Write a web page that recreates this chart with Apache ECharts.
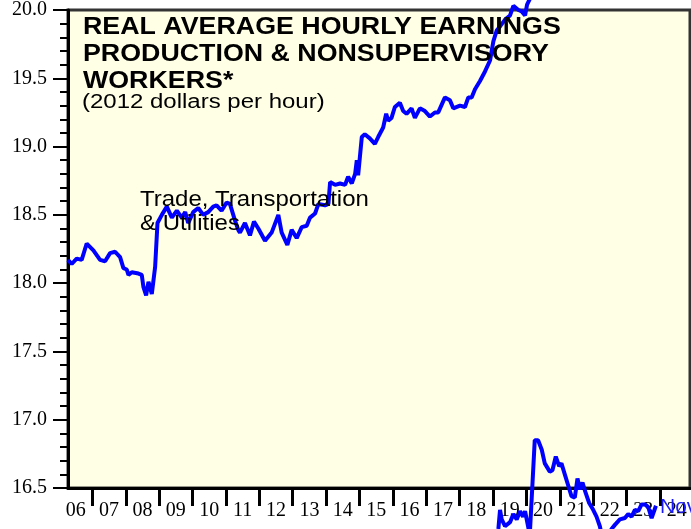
<!DOCTYPE html>
<html>
<head>
<meta charset="UTF-8">
<script src="https://cdn.jsdelivr.net/npm/echarts@6/dist/echarts.min.js"></script>
<style>
  html, body { margin: 0; padding: 0; background: #fff; }
  #main { width: 691px; height: 529px; }
</style>
</head>
<body>
<div id="main"></div>
<script>
    // upper line (decimal year, 2012 dollars per hour)
    var upperYears = [2006.27, 2006.38, 2006.53, 2006.68, 2006.83, 2007.03, 2007.23, 2007.38, 2007.53, 2007.68,
        2007.83, 2007.93, 2008.03, 2008.08, 2008.18, 2008.38, 2008.48, 2008.53, 2008.61, 2008.68,
        2008.78, 2008.88, 2008.95, 2009.08, 2009.23, 2009.38, 2009.53, 2009.68, 2009.78, 2009.87,
        2010.02, 2010.17, 2010.32, 2010.47, 2010.62, 2010.72, 2010.87, 2011.02, 2011.12, 2011.27,
        2011.37, 2011.42, 2011.57, 2011.72, 2011.84, 2011.97, 2012.17, 2012.37, 2012.57, 2012.67,
        2012.84, 2012.97, 2013.12, 2013.27, 2013.42, 2013.52, 2013.67, 2013.77, 2013.97, 2014.07,
        2014.12, 2014.27, 2014.42, 2014.57, 2014.66, 2014.77, 2014.87, 2014.92, 2014.96, 2015.07,
        2015.16, 2015.31, 2015.46, 2015.56, 2015.71, 2015.80, 2015.86, 2015.96, 2016.06, 2016.21,
        2016.31, 2016.41, 2016.56, 2016.66, 2016.81, 2016.96, 2017.11, 2017.26, 2017.36, 2017.56,
        2017.71, 2017.81, 2018.01, 2018.16, 2018.26, 2018.36, 2018.46, 2018.61, 2018.76, 2018.91,
        2019.01, 2019.11, 2019.21, 2019.36, 2019.51, 2019.61, 2019.76, 2019.86, 2019.96, 2020.02,
        2020.10, 2020.15];
    var upperValues = [18.17, 18.14, 18.18, 18.17, 18.29, 18.24, 18.17, 18.16, 18.22, 18.23,
        18.19, 18.11, 18.10, 18.06, 18.08, 18.07, 18.06, 17.97, 17.91, 18.01,
        17.92, 18.12, 18.44, 18.50, 18.56, 18.48, 18.53, 18.48, 18.52, 18.44,
        18.52, 18.55, 18.50, 18.52, 18.56, 18.57, 18.53, 18.59, 18.58, 18.46,
        18.39, 18.37, 18.44, 18.35, 18.45, 18.40, 18.31, 18.37, 18.50, 18.37,
        18.28, 18.39, 18.33, 18.41, 18.42, 18.48, 18.51, 18.58, 18.57, 18.58,
        18.74, 18.72, 18.73, 18.72, 18.78, 18.73, 18.80, 18.90, 18.79, 19.07,
        19.09, 19.06, 19.02, 19.07, 19.14, 19.24, 19.19, 19.21, 19.29, 19.32,
        19.26, 19.24, 19.28, 19.21, 19.28, 19.26, 19.22, 19.25, 19.25, 19.36,
        19.34, 19.28, 19.30, 19.29, 19.36, 19.36, 19.42, 19.48, 19.55, 19.63,
        19.77, 19.85, 19.88, 19.93, 19.96, 20.03, 20.00, 19.99, 19.96, 20.04,
        20.08, 20.20];

    // lower line, drawn below the axis at the right
    var lowerYears = [2019.12, 2019.16, 2019.21, 2019.26, 2019.36, 2019.51, 2019.61, 2019.71, 2019.81, 2019.90,
        2019.96, 2020.05, 2020.10, 2020.25, 2020.35, 2020.46, 2020.55, 2020.70, 2020.78, 2020.88,
        2020.98, 2021.05, 2021.15, 2021.25, 2021.35, 2021.45, 2021.53, 2021.60, 2021.68, 2021.78,
        2021.88, 2022.00, 2022.10, 2022.20, 2022.26, 2022.38, 2022.55, 2022.65, 2022.80, 2022.95,
        2023.05, 2023.15, 2023.25, 2023.35, 2023.45, 2023.55, 2023.65, 2023.75, 2023.80, 2023.88];
    var lowerValues = [16.12, 16.20, 16.34, 16.27, 16.22, 16.25, 16.31, 16.27, 16.33, 16.29,
        16.33, 16.22, 16.15, 16.85, 16.85, 16.78, 16.68, 16.62, 16.63, 16.73,
        16.66, 16.68, 16.60, 16.52, 16.44, 16.43, 16.57, 16.49, 16.54, 16.46,
        16.39, 16.34, 16.29, 16.22, 16.15, 16.10, 16.20, 16.23, 16.27, 16.28,
        16.31, 16.29, 16.34, 16.33, 16.38, 16.38, 16.36, 16.28, 16.29, 16.37];

    var yearTicks = [2007, 2008, 2009, 2010, 2011, 2012, 2013, 2014, 2015, 2016, 2017, 2018, 2019, 2020, 2021, 2022, 2023, 2024];
    var yearLabels = ['06', '07', '08', '09', '10', '11', '12', '13', '14', '15', '16', '17', '18', '19', '20', '21', '22', '23', '24'];
    var labelPos = yearLabels.map(function (s) { return 2000 + parseInt(s, 10) + 0.5; });

    function pairs(xs, ys) {
        var out = [];
        for (var i = 0; i < xs.length; i++) out.push([xs[i], ys[i]]);
        return out;
    }

    var mychart = echarts.init(document.getElementById('main'));
    var option = {
        animation: false,
        backgroundColor: '#ffffff',
        grid: {
            left: 68, right: 1, top: 9, bottom: 41,
            show: true,
            backgroundColor: '#ffffe6',
            borderColor: '#333',
            borderWidth: 3
        },
        xAxis: {
            type: 'value',
            min: 2006.27,
            max: 2024.9,
            splitLine: { show: false },
            axisLine: { show: true, lineStyle: { color: '#000', width: 3 } },
            axisTick: {
                show: true, customValues: yearTicks, length: 18, inside: false,
                lineStyle: { color: '#000', width: 3 }
            },
            axisLabel: {
                customValues: labelPos,
                margin: 13,
                fontFamily: 'Liberation Serif',
                fontSize: 20,
                color: '#000',
                formatter: function (v) { return String(Math.floor(v)).slice(2); }
            }
        },
        yAxis: {
            type: 'value',
            min: 16.5,
            max: 20,
            interval: 0.5,
            splitLine: { show: false },
            axisLine: { show: true, lineStyle: { color: '#000', width: 3 } },
            axisTick: { show: true, length: 15, lineStyle: { color: '#000', width: 2 } },
            minorTick: { show: true, splitNumber: 5, length: 8, lineStyle: { color: '#000', width: 2 } },
            axisLabel: {
                margin: 21,
                fontFamily: 'Liberation Serif',
                fontSize: 20,
                color: '#000',
                formatter: function (v) { return v.toFixed(1); }
            }
        },
        series: [
            {
                type: 'line', data: pairs(upperYears, upperValues), clip: false,
                showSymbol: false, lineStyle: { color: '#0000ff', width: 4 }, z: 3
            },
            {
                type: 'line', data: pairs(lowerYears, lowerValues), clip: false,
                showSymbol: false, lineStyle: { color: '#0000ff', width: 4 }, z: 3
            }
        ],
        graphic: [
            { type: 'text', x: 83, y: 16, scaleX: 1.14, z: 10,
              style: { text: 'REAL AVERAGE HOURLY EARNINGS', font: 'bold 23.5px "Liberation Sans"', fill: '#000', verticalAlign: 'top' } },
            { type: 'text', x: 83, y: 42.5, scaleX: 1.14, z: 10,
              style: { text: 'PRODUCTION & NONSUPERVISORY', font: 'bold 23.5px "Liberation Sans"', fill: '#000', verticalAlign: 'top' } },
            { type: 'text', x: 83, y: 69.5, scaleX: 1.14, z: 10,
              style: { text: 'WORKERS*', font: 'bold 23.5px "Liberation Sans"', fill: '#000', verticalAlign: 'top' } },
            { type: 'text', x: 82, y: 93, scaleX: 1.23, z: 10,
              style: { text: '(2012 dollars per hour)', font: '19.5px "Liberation Sans"', fill: '#000', verticalAlign: 'top' } },
            { type: 'text', x: 140, y: 189, scaleX: 1.09, z: 10,
              style: { text: 'Trade, Transportation', font: '22px "Liberation Sans"', fill: '#000', verticalAlign: 'top' } },
            { type: 'text', x: 140, y: 213, scaleX: 1.09, z: 10,
              style: { text: '& Utilities', font: '22px "Liberation Sans"', fill: '#000', verticalAlign: 'top' } },
            { type: 'text', x: 660, y: 497, scaleX: 1.05, z: 10,
              style: { text: 'Nov', font: '20px "Liberation Sans"', fill: '#1a1aff', verticalAlign: 'top' } }
        ]
    };
    mychart.setOption(option);
</script>
</body>
</html>
